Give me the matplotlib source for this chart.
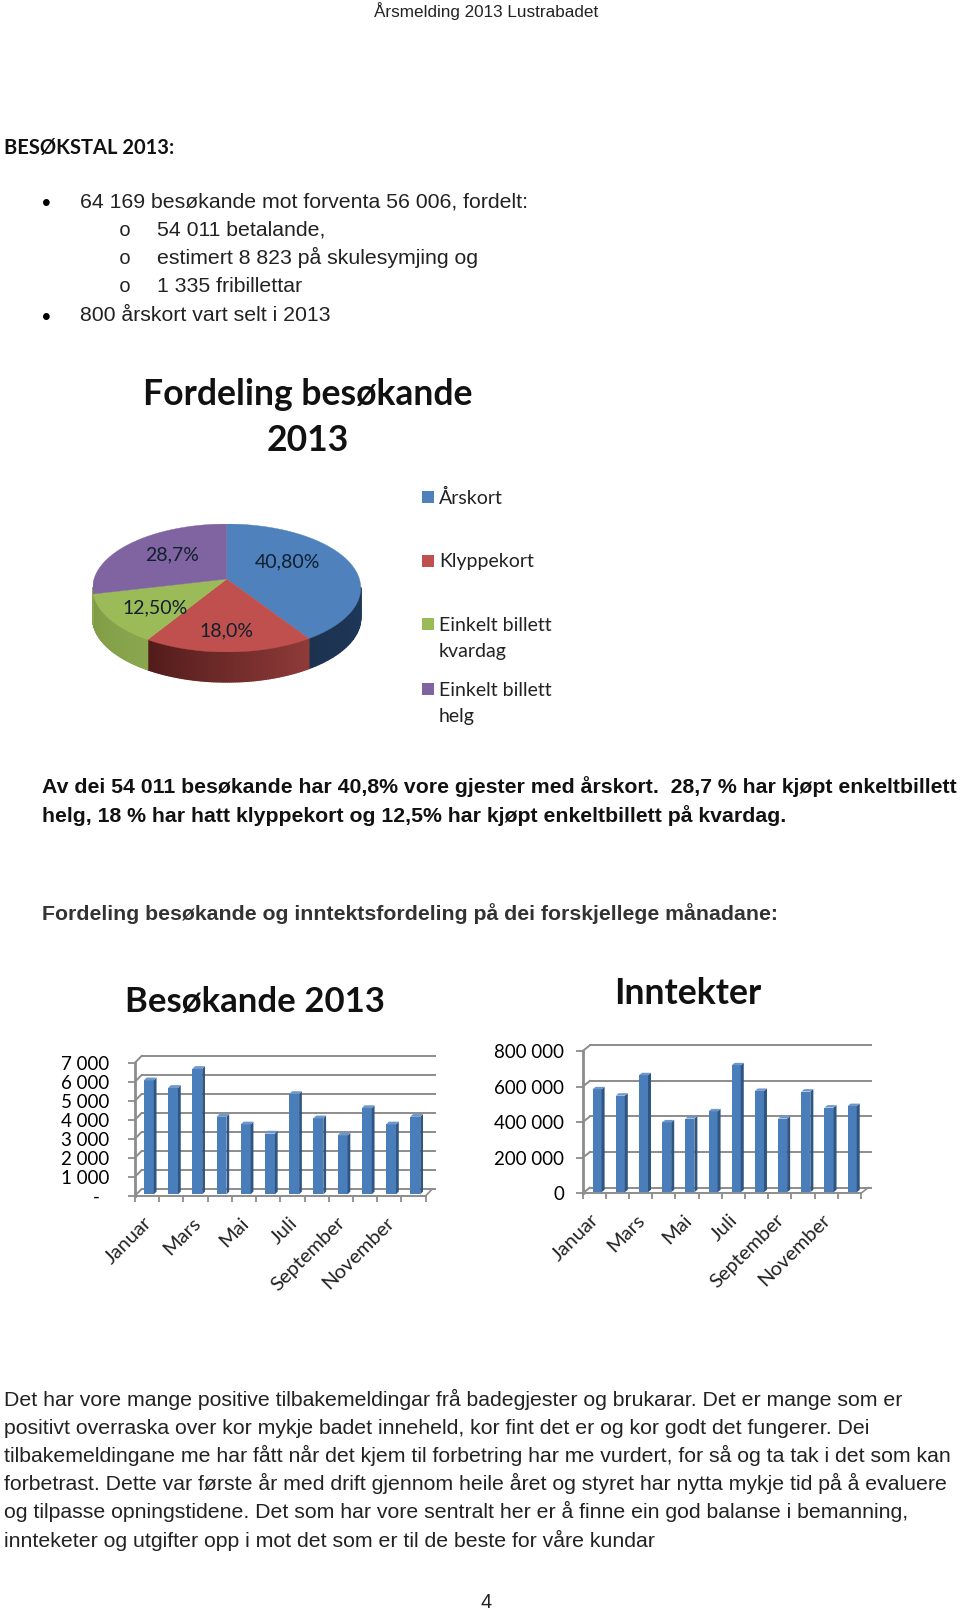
import numpy as np
import matplotlib
matplotlib.use("Agg")
import matplotlib.pyplot as plt
from matplotlib.colors import to_rgb
from matplotlib.patches import Rectangle

W, H = 960, 1610

# data
pie_names = ["Årskort", "Klyppekort", "Einkelt billett\nkvardag", "Einkelt billett\nhelg"]
pie_values = [40.8, 18.0, 12.5, 28.7]
pie_labels = ["40,80%", "18,0%", "12,50%", "28,7%"]
pie_colors = ["#4F81BD", "#C0504D", "#9BBB59", "#8064A2"]

months = ["Januar", "Februar", "Mars", "April", "Mai", "Juni", "Juli",
          "August", "September", "Oktober", "November", "Desember"]
visitors = [6000, 5600, 6600, 4080, 3680, 3200, 5280, 4000, 3100, 4540, 3680, 4080]
income = [579000, 543000, 658000, 393000, 414000, 455000, 714000, 570000, 414000, 566000, 476000, 485000]
visitor_ticks = [0, 1000, 2000, 3000, 4000, 5000, 6000, 7000]
visitor_ticklabels = ["-  ", "1 000", "2 000", "3 000", "4 000", "5 000", "6 000", "7 000"]
income_ticks = [0, 200000, 400000, 600000, 800000]
income_ticklabels = ["0", "200 000", "400 000", "600 000", "800 000"]

body_lines = [
    "Det har vore mange positive tilbakemeldingar frå badegjester og brukarar. Det er mange som er",
    "positivt overraska over kor mykje badet inneheld, kor fint det er og kor godt det fungerer. Dei",
    "tilbakemeldingane me har fått når det kjem til forbetring har me vurdert, for så og ta tak i det som kan",
    "forbetrast. Dette var første år med drift gjennom heile året og styret har nytta mykje tid på å evaluere",
    "og tilpasse opningstidene. Det som har vore sentralt her er å finne ein god balanse i bemanning,",
    "innteketer og utgifter opp i mot det som er til de beste for våre kundar",
]

ARIAL = "Liberation Sans"
CALIBRI = "Lato"
BAR = "#4A7EBB"
BAR_SIDE = "#2F5581"
BAR_TOP = "#6D97CB"
GRID = "#8C8C8C"
INK = "#222222"


def make_axes(fig, left, right, top, bottom):
    # posisjon i pikslar, y nedover som i bildet
    return fig.add_axes([left / W, 1 - bottom / H, (right - left) / W, (bottom - top) / H])


def bar_chart(ax, values, ticks, ticklabels, ymax, depth_x, depth_y, pad, width, shift, label_pad):
    n = len(values)
    ax.set_xlim(0, n)
    ax.set_ylim(0, ymax)
    ax.patch.set_visible(False)
    for s in ax.spines.values():
        s.set_visible(False)

    # bakvegg og golv
    for t in ticks:
        ax.plot([0, depth_x], [t, t + depth_y], color=GRID, lw=1.4, clip_on=False, zorder=1)
        ax.plot([depth_x, n + depth_x + 0.1], [t + depth_y, t + depth_y], color=GRID, lw=1.4, clip_on=False, zorder=1)
    ax.plot([n, n + depth_x], [0, depth_y], color=GRID, lw=1.2, clip_on=False, zorder=1)
    ax.plot([0, n], [0, 0], color=GRID, lw=1.4, clip_on=False, zorder=1)
    ax.plot([0, 0], [0, ymax], color=GRID, lw=2.0, clip_on=False, zorder=1)

    x = np.arange(n) + shift
    ax.bar(x, values, width=width, bottom=pad, color=BAR, zorder=3)
    side_dx = depth_x * 0.42
    side_dy = depth_y * 0.42
    for xi, v in zip(x, values):
        x1 = xi + width / 2
        x0 = xi - width / 2
        top = v + pad
        ax.fill([x1, x1 + side_dx, x1 + side_dx, x1],
                [pad, pad + side_dy, top + side_dy, top], color=BAR_SIDE, lw=0, zorder=3, clip_on=False)
        ax.fill([x0, x0 + side_dx, x1 + side_dx, x1],
                [top, top + side_dy, top + side_dy, top], color=BAR_TOP, lw=0, zorder=3, clip_on=False)

    ax.set_yticks(ticks)
    ax.set_yticklabels(ticklabels, family=CALIBRI, fontsize=13.5, color="black")
    ax.tick_params(axis="y", length=5, width=1.3, color=GRID, pad=label_pad)
    ax.set_xticks(np.arange(n + 1))
    ax.set_xticklabels([""] * (n + 1))
    ax.tick_params(axis="x", length=4, width=1.3, color=GRID)


fig = plt.figure(figsize=(W / 100, H / 100), dpi=100, facecolor="white")

# kakediagram, med perspektiv på sirkelen
tilt = 0.14
side_depth = 0.478


def persp(x, y):
    w = 1 + tilt * y
    return x / w, y / w


pie_ax = make_axes(fig, 92.7, 360.7, 524, 652)
wedges, _ = pie_ax.pie(pie_values, colors=pie_colors, startangle=90, counterclock=False,
                       radius=1, wedgeprops={"linewidth": 0})
for w, col in zip(wedges, pie_colors):
    t = np.radians(np.linspace(w.theta1, w.theta2, 120))
    rim_x = np.r_[w.center[0], w.r * np.cos(t)]
    rim_y = np.r_[w.center[1], w.r * np.sin(t)]
    px, py = persp(rim_x, rim_y)
    w.remove()
    pie_ax.fill(px, py, color=col, lw=0.3, zorder=5)
pie_ax.set_aspect("auto")
pie_ax.set_xlim(-1 / np.sqrt(1 - tilt ** 2), 1 / np.sqrt(1 - tilt ** 2))
pie_ax.set_ylim(-1 / (1 - tilt), 1 / (1 + tilt))

side_from = ["#1C3350", "#8F3B39", "#8AA64E", "#8AA64E"]
side_to = ["#24436A", "#521C1B", "#7F9B45", "#8AA64E"]
angle = 90.0
for val, c0, c1 in zip(pie_values, side_from, side_to):
    end = angle - val * 3.6
    steps = np.linspace(angle, end, 90)
    shade = np.linspace(0, 1, 89)
    if c0 == "#1C3350":
        shade = shade[::-1]
    for a0, a1, f in zip(steps[:-1], steps[1:], shade):
        if np.sin(np.radians((a0 + a1) / 2)) > -tilt:
            continue
        xs, ys = persp(np.cos(np.radians([a0, a1])), np.sin(np.radians([a0, a1])))
        col = np.array(to_rgb(c0)) * (1 - f) + np.array(to_rgb(c1)) * f
        pie_ax.fill([xs[0], xs[1], xs[1], xs[0]],
                    [ys[0], ys[1], ys[1] - side_depth, ys[0] - side_depth],
                    color=col, lw=1, zorder=2, clip_on=False)
    angle = end

# stolpediagram
ax1 = make_axes(fig, 135, 425.7, 1062.7, 1195.7)
bar_chart(ax1, visitors, visitor_ticks, visitor_ticklabels, 7000, 0.27, 350, 70, 0.41, 0.57, 13.5)
ax2 = make_axes(fig, 582.7, 861, 1051, 1193.3)
bar_chart(ax2, income, income_ticks, income_ticklabels, 800000, 0.31, 32000, 6000, 0.39, 0.62, 8.5)

# tekst over alt, i pikslar
page = fig.add_axes([0, 0, 1, 1], zorder=10)
page.set_xlim(0, W)
page.set_ylim(H, 0)
page.axis("off")


def txt(x, y, s, size, family=ARIAL, weight="normal", color="black", ha="left", va="baseline"):
    page.text(x, y, s, fontsize=size, family=family, fontweight=weight, color=color, ha=ha, va=va)


txt(486, 11, "Årsmelding 2013 Lustrabadet", 12.3, ha="center", va="center", color=INK)
txt(4, 154.3, "BESØKSTAL 2013:", 14.5, CALIBRI, "bold", color="#111111")

txt(46.7, 211.5, "•", 18, ha="center")
txt(80, 207.7, "64 169 besøkande mot forventa 56 006, fordelt:", 15.3, color=INK)
for y, s in zip([236, 264, 292.3], ["54 011 betalande,", "estimert 8 823 på skulesymjing og", "1 335 fribillettar"]):
    txt(119, y, "o", 14.4, family="Liberation Mono", color=INK)
    txt(157, y, s, 15.3, color=INK)
txt(46.7, 324.5, "•", 18, ha="center")
txt(80, 321, "800 årskort vart selt i 2013", 15.3, color=INK)

txt(308, 394.5, "Fordeling besøkande", 25.6, CALIBRI, "bold", ha="center", va="center", color="#111111")
txt(308, 440, "2013", 25.6, CALIBRI, "bold", ha="center", va="center", color="#111111")

# forklaring
legend_y = [497.5, 561.5, 625.5, 690]
for y, name, col in zip(legend_y, pie_names, pie_colors):
    page.add_patch(Rectangle((422, y - 7), 12, 12, color=col, lw=0))
    for k, part in enumerate(name.split("\n")):
        txt(439, y + k * 26, part, 14, CALIBRI, va="center", color=INK)

for (x, y), s in zip([(287, 562), (226, 631), (155, 608), (172, 555)], pie_labels):
    txt(x, y, s, 14, CALIBRI, ha="center", va="center", color="#10202E")

txt(42, 793.3, "Av dei 54 011 besøkande har 40,8% vore gjester med årskort.  28,7 % har kjøpt enkeltbillett", 15.3, weight="bold", color="#111111")
txt(42, 821.7, "helg, 18 % har hatt klyppekort og 12,5% har kjøpt enkeltbillett på kvardag.", 15.3, weight="bold", color="#111111")
txt(42, 920, "Fordeling besøkande og inntektsfordeling på dei forskjellege månadane:", 15.3, weight="bold", color="#333333")

txt(255, 1001.5, "Besøkande 2013", 25, CALIBRI, "bold", ha="center", va="center", color="#111111")
txt(688, 993, "Inntekter", 25.7, CALIBRI, "bold", ha="center", va="center", color="#111111")

# månadsnamn, annakvar
left_x = np.linspace(135, 425.7, 13)
right_x = np.linspace(582.7, 861, 13)
for xs, x0, y0 in ((left_x, 8, 1214), (right_x, 7, 1211)):
    for i in range(0, 12, 2):
        page.text(xs[i] + x0, y0, months[i], fontsize=14.5, family=CALIBRI, rotation=45,
                  ha="right", va="top", rotation_mode="anchor", color=INK)

for y, line in zip([1406, 1434, 1462, 1490.3, 1518.3, 1546.7], body_lines):
    txt(4, y, line, 15.35, color=INK)
txt(486, 1602, "4", 14.3, ha="center", va="center", color=INK)

fig.savefig("out.png", dpi=100)
